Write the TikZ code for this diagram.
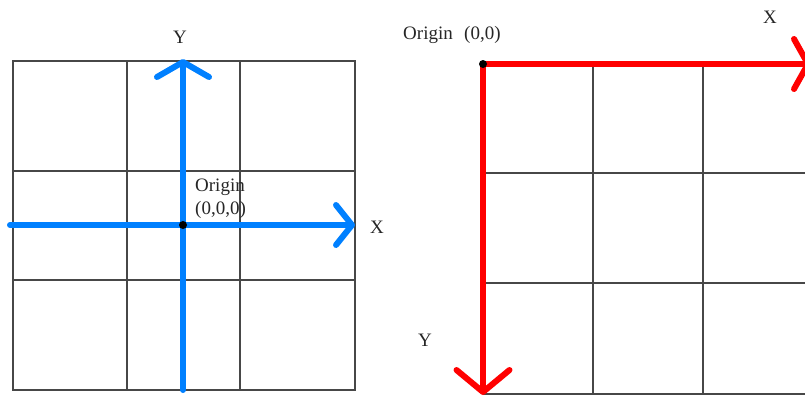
\documentclass[tikz,border=0pt]{standalone}
\usepackage{fontspec}
\setmainfont{Liberation Serif}
\usetikzlibrary{arrows.meta, positioning}
\definecolor{axblue}{RGB}{0,128,255}
\definecolor{axred}{RGB}{255,0,0}

\begin{document}
\begin{tikzpicture}[
  x=1pt, y=-1pt,
  gridline/.style={draw=black!72, line width=1.1pt},
  axis/.style={line width=6pt, line cap=round},
  lbl/.style={font=\fontsize{19}{21}\selectfont, text=black!85, inner sep=0pt},
  dot/.style={circle, fill=black, inner sep=0pt, minimum size=8pt}
  ]
  \useasboundingbox (0,0) rectangle (805,399);
  \clip (0,0) rectangle (805,399);
  % centred origin
  \begin{scope}
  \draw[gridline] (13,61) rectangle (355,390);
  \foreach \x in {127,240} \draw[gridline] (\x,61) -- (\x,390);
  \foreach \y in {171,280} \draw[gridline] (13,\y) -- (355,\y);
  \coordinate (oA) at (183,225);
  \coordinate (xa0) at (10,225);
  \coordinate (xa1) at (355,225);
  \coordinate (ya0) at (183,390);
  \coordinate (ya1) at (183,59);
  \draw[axis, axblue, -{Straight Barb[length=16pt, width=40pt, round]}] (xa0) -- (xa1);
  \draw[axis, axblue, -{Straight Barb[length=15pt, width=52pt, round]}] (ya0) -- (ya1);
  \node[dot] (dotA) at (oA) {};
  \node[lbl] (xA) at (377,227) {X};
  \node[lbl] (yA) at (180,37) {Y};
  \node[lbl, anchor=west] (orgA) at (195,187) {Origin};
  \node[lbl, below=6pt of orgA.south west, anchor=north west] (ptA) {(0,0,0)};
  \end{scope}
  % top-left origin
  \begin{scope}
  \foreach \x in {593,703,813} \draw[gridline] (\x,64) -- (\x,394);
  \foreach \y in {173,283,394} \draw[gridline] (483,\y) -- (813,\y);
  \coordinate (oB) at (483,64);
  \coordinate (xb1) at (811,64);
  \coordinate (yb1) at (483,395);
  \draw[axis, axred, -{Straight Barb[length=14pt, width=50pt, round]}] (oB) -- (xb1);
  \draw[axis, axred, -{Straight Barb[length=22pt, width=53pt, round]}] (oB) -- (yb1);
  \node[dot] (dotB) at (oB) {};
  \node[lbl] (xB) at (770,17) {X};
  \node[lbl] (yB) at (425,340) {Y};
  \node[lbl, anchor=west] (orgB) at (403,35) {Origin};
  \node[lbl, right=11pt of orgB] (ptB) {(0,0)};
  \end{scope}
\end{tikzpicture}
\end{document}
